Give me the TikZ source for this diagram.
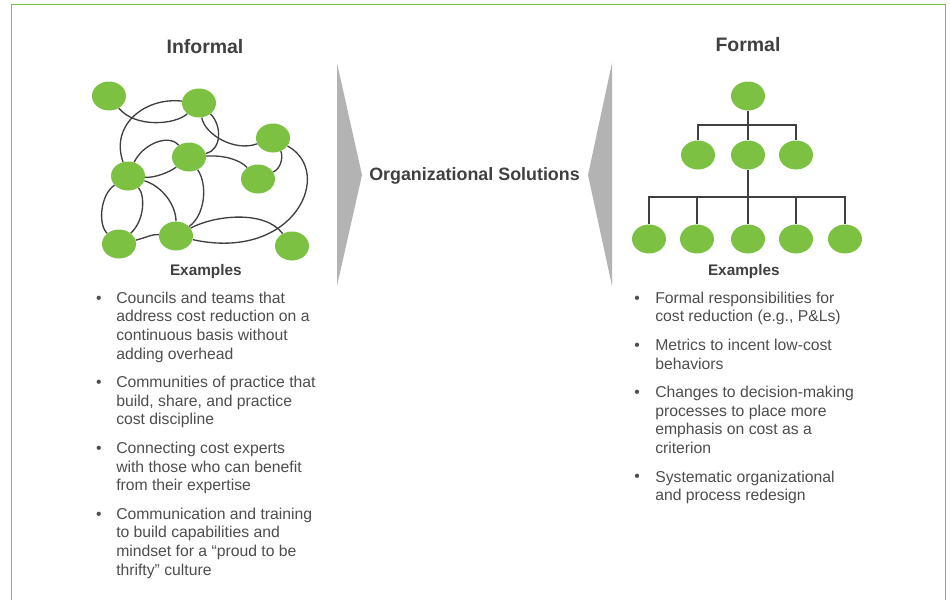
\documentclass[tikz,border=0pt]{standalone}
\usepackage{fontspec}
\setmainfont{Liberation Sans}
\usetikzlibrary{shapes.geometric}
\pgfdeclarelayer{bg}
\pgfsetlayers{bg,main}
\definecolor{leaf}{HTML}{7DC142}
\definecolor{chev}{HTML}{B3B3B3}
\definecolor{ink}{HTML}{404040}
\definecolor{body}{HTML}{4D4D4D}
\begin{document}
\begin{tikzpicture}[x=0.75pt,y=-0.75pt,
  dot/.style={ellipse, fill=leaf, minimum width=25.5pt, minimum height=21.75pt, inner sep=0},
  link/.style={draw=ink, line width=1pt},
  tree/.style={draw=ink, line width=1.1pt},
  ttl/.style={font=\bfseries\fontsize{14.6}{17}\selectfont, text=ink, inner sep=0, anchor=base},
  sub/.style={font=\bfseries\fontsize{11.5}{14}\selectfont, text=ink, inner sep=0, anchor=base},
  btext/.style={font=\fontsize{11.8}{13.95}\selectfont, text=body, align=left, anchor=north west, inner sep=0},
  bul/.style={font=\fontsize{11.8}{13.95}\selectfont, text=body, anchor=base, inner sep=0},
  chevron/.style={fill=chev, draw=none}]
\useasboundingbox (0,0) rectangle (950,600);
% frame
\draw[draw=leaf, line width=1.2pt] (11.5,600) -- (11.5,4.5) -- (945.5,4.5) -- (945.5,600);

% titles
\node[ttl] (tinf) at (205,53) {Informal};
\node[ttl] (tfor) at (748,51) {Formal};
\node[font=\bfseries\fontsize{13.4}{16}\selectfont, text=ink, inner sep=0, anchor=base] (sol) at (474.5,180) {Organizational Solutions};

% chevrons
\fill[chevron] (337,63) -- (362,175) -- (337,286) -- cycle;
\fill[chevron] (612,63) -- (588,175) -- (612,286) -- cycle;

% informal network
\node[dot] (A) at (109,96) {};
\node[dot] (B) at (199,103) {};
\node[dot] (C) at (273,138) {};
\node[dot] (D) at (189,157) {};
\node[dot] (E) at (128,176) {};
\node[dot] (F) at (258,179) {};
\node[dot] (G) at (119,244) {};
\node[dot] (H) at (176,236) {};
\node[dot] (I) at (292,246) {};
\begin{pgfonlayer}{bg}
\path[link] (A) .. controls (135,128) and (175,125) .. (B);
\path[link] (B) .. controls (145,97) and (110,125) .. (E);
\path[link] (B) .. controls (222,125) and (222,150) .. (D);
\path[link] (B) .. controls (205,135) and (235,152) .. (C);
\path[link] (E) .. controls (142,145) and (168,133) .. (D);
\path[link] (E) .. controls (155,178) and (170,172) .. (D);
\path[link] (D) .. controls (225,155) and (240,160) .. (F);
\path[link] (C) .. controls (283,155) and (282,168) .. (F);
\path[link] (C) .. controls (335,172) and (295,262) .. (H);
\path[link] (D) .. controls (208,185) and (205,215) .. (H);
\path[link] (E) .. controls (162,186) and (176,205) .. (H);
\path[link] (E) .. controls (100,195) and (98,225) .. (G);
\path[link] (E) .. controls (145,195) and (145,220) .. (G);
\path[link] (G) .. controls (145,238) and (152,234) .. (H);
\path[link] (H) .. controls (215,215) and (265,210) .. (I);
\end{pgfonlayer}

% formal tree
\node[dot] (R) at (748,96) {};
\node[dot] (m1) at (698,155) {};
\node[dot] (m2) at (748,155) {};
\node[dot] (m3) at (796,155) {};
\node[dot] (b1) at (649,239) {};
\node[dot] (b2) at (697,239) {};
\node[dot] (b3) at (748,239) {};
\node[dot] (b4) at (796,239) {};
\node[dot] (b5) at (845,239) {};
\coordinate (bus1) at (748,125);
\coordinate (bus2) at (748,197);
\begin{pgfonlayer}{bg}
\draw[tree] (R) -- (m2);
\draw[tree] (m1.north) |- (bus1) -| (m3.north);
\draw[tree] (m2) -- (b3);
\draw[tree] (b1.north) |- (bus2) -| (b5.north);
\draw[tree] (b2.north) -- (b2.north |- bus2);
\draw[tree] (b4.north) -- (b4.north |- bus2);
\end{pgfonlayer}

% examples
\node[sub] (exl) at (205.8,275) {Examples};
\node[sub] (exr) at (743.8,275) {Examples};

\node[bul] (lb1) at (99,303) {•};
\node[btext] (l1) at (116,290) {\strut Councils and teams that\\address cost reduction on a\\continuous basis without\\adding overhead};
\node[bul] (lb2) at (99,387.4) {•};
\node[btext] (l2) at (116,374.4) {\strut Communities of practice that\\build, share, and practice\\cost discipline};
\node[bul] (lb3) at (99,453.2) {•};
\node[btext] (l3) at (116,440.2) {\strut Connecting cost experts\\with those who can benefit\\from their expertise};
\node[bul] (lb4) at (99,519) {•};
\node[btext] (l4) at (116,506) {\strut Communication and training\\to build capabilities and\\mindset for a “proud to be\\thrifty” culture};

\node[bul] (rb1) at (637,303) {•};
\node[btext] (r1) at (655,290) {\strut Formal responsibilities for\\cost reduction (e.g., P\&Ls)};
\node[bul] (rb2) at (637,350.2) {•};
\node[btext] (r2) at (655,337.2) {\strut Metrics to incent low-cost\\behaviors};
\node[bul] (rb3) at (637,397.4) {•};
\node[btext] (r3) at (655,384.4) {\strut Changes to decision-making\\processes to place more\\emphasis on cost as a\\criterion};
\node[bul] (rb4) at (637,481.8) {•};
\node[btext] (r4) at (655,468.8) {\strut Systematic organizational\\and process redesign};
\end{tikzpicture}
\end{document}
